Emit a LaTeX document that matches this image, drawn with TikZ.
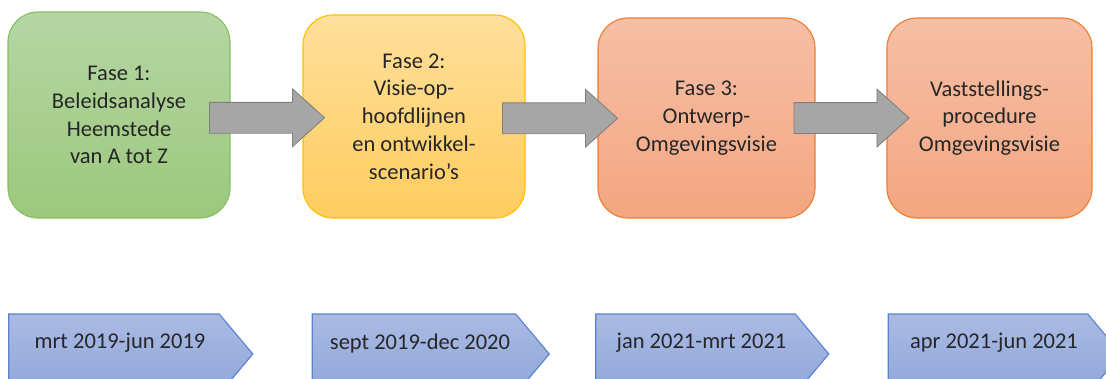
\documentclass[tikz,border=0pt]{standalone}
\usepackage{fontspec}
\setmainfont{Carlito}
\usetikzlibrary{shapes.arrows,shapes.symbols,calc,positioning}
\def\pu{0.025cm}
\definecolor{tekst}{RGB}{38,38,38}
\definecolor{groenboven}{RGB}{181,214,164}
\definecolor{groenonder}{RGB}{156,200,125}
\definecolor{groenrand}{RGB}{135,192,100}
\definecolor{geelboven}{RGB}{255,223,155}
\definecolor{geelonder}{RGB}{255,205,95}
\definecolor{geelrand}{RGB}{255,192,0}
\definecolor{oranjeboven}{RGB}{246,191,166}
\definecolor{oranjeonder}{RGB}{243,166,129}
\definecolor{oranjerand}{RGB}{237,125,49}
\definecolor{blauwboven}{RGB}{170,186,227}
\definecolor{blauwonder}{RGB}{142,166,218}
\definecolor{blauwrand}{RGB}{90,130,205}
\definecolor{pijlgrijs}{RGB}{166,166,166}
\definecolor{pijlrand}{RGB}{127,127,127}
\tikzset{
    fase/.style={rectangle,
            rounded corners=0.75cm,
            draw,
            line width=0.8pt,
            align=center,
            text=tekst,
            inner sep=0pt,
            font=\fontsize{16}{19.8}\selectfont},
    groen/.style={fase, top color=groenboven, bottom color=groenonder, draw=groenrand},
    geel/.style={fase, top color=geelboven, bottom color=geelonder, draw=geelrand},
    oranje/.style={fase, top color=oranjeboven, bottom color=oranjeonder, draw=oranjerand},
    pijl/.style={single arrow,
            draw=pijlrand,
            fill=pijlgrijs,
            line width=0.6pt,
            inner sep=0pt,
            text height=30*\pu,
            text depth=0pt,
            minimum height=115*\pu,
            single arrow head extend=13.5*\pu,
            single arrow tip angle=84},
    periode/.style={signal,
            signal to=east,
            signal pointer angle=100,
            draw=blauwrand,
            line width=0.8pt,
            top color=blauwboven,
            bottom color=blauwonder,
            inner sep=0pt,
            minimum height=80*\pu},
    datum/.style={text=tekst,
            xshift=6*\pu,
            yshift=11*\pu,
            font=\fontsize{16}{19.5}\selectfont},
}

\begin{document}
\begin{tikzpicture}[x=\pu,y=-\pu]
\useasboundingbox (0,0) rectangle (1106,378);
\clip (0,0) rectangle (1106,378);
\node[groen, minimum width=222*\pu, minimum height=206*\pu] (f1) at (119,115)
    {Fase 1:\\Beleidsanalyse\\Heemstede\\van A tot Z};
\node[geel, minimum width=222*\pu, minimum height=203*\pu] (f2) at (414,116.5)
    {Fase 2:\\Visie-op-\\hoofdlijnen\\en ontwikkel-\\scenario’s};
\node[oranje, minimum width=217*\pu, minimum height=200*\pu] (f3) at (706.5,118)
    {Fase 3:\\Ontwerp-\\Omgevingsvisie};
\node[oranje, minimum width=205*\pu, minimum height=200*\pu] (f4) at (989.5,118)
    {Vaststellings-\\procedure\\Omgevingsvisie};

\node[pijl] (p1) at ($(f1.east)!.5!(f2.west)+(-8,2)$) {};
\node[pijl] (p2) at ($(f2.east)!.5!(f3.west)+(-10,1)$) {};
\node[pijl] (p3) at ($(f3.east)!.5!(f4.west)+(-8,0)$) {};

\node[periode, minimum width=244*\pu, label={[datum]center:mrt 2019-jun 2019}] (d1) at (114,354) {};
\node[periode, minimum width=237*\pu, label={[datum]center:sept 2019-dec 2020}] (d2) at (414,354) {};
\node[periode, minimum width=233*\pu, label={[datum]center:jan 2021-mrt 2021}] (d3) at (695.5,354) {};
\node[periode, minimum width=233*\pu, label={[datum]center:apr 2021-jun 2021}] (d4) at (988,354) {};
\end{tikzpicture}
\end{document}
